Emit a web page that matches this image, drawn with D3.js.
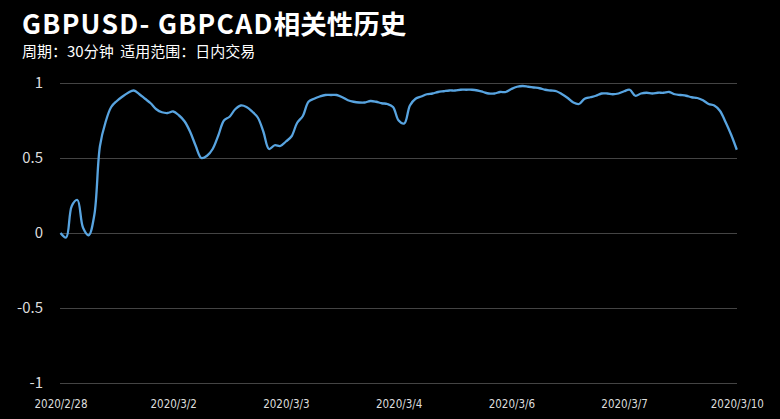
<!DOCTYPE html>
<html>
<head>
<meta charset="utf-8">
<script src="https://cdn.jsdelivr.net/npm/d3@7/dist/d3.min.js"></script>
<style>
  html, body { margin: 0; padding: 0; background: #000; }
  svg { display: block; }
</style>
</head>
<body>
<svg id="chart" width="780" height="419"></svg>
<script>
// ---- data ----
const titleLatin = "GBPUSD- GBPCAD";
const titleCJK = "相关性历史";
const subtitle = "周期：30分钟  适用范围：日内交易";
const correlation = [
  0.00, -0.03, 0.18, 0.22, 0.035, -0.015, 0.12, 0.58, 0.74, 0.84,
  0.88, 0.91, 0.935, 0.95, 0.925, 0.895, 0.865, 0.825, 0.805, 0.80,
  0.81, 0.785, 0.745, 0.675, 0.58, 0.50, 0.515, 0.56, 0.65, 0.75,
  0.775, 0.825, 0.85, 0.84, 0.81, 0.77, 0.675, 0.56, 0.585, 0.58,
  0.61, 0.645, 0.735, 0.78, 0.875, 0.895, 0.91, 0.92, 0.92, 0.92,
  0.905, 0.885, 0.875, 0.87, 0.87, 0.88, 0.875, 0.865, 0.86, 0.84,
  0.75, 0.73, 0.85, 0.895, 0.91, 0.925, 0.93, 0.94, 0.945, 0.95,
  0.95, 0.955, 0.955, 0.955, 0.95, 0.94, 0.93, 0.93, 0.94, 0.94,
  0.96, 0.975, 0.98, 0.975, 0.97, 0.965, 0.955, 0.95, 0.945, 0.925,
  0.90, 0.87, 0.86, 0.895, 0.905, 0.915, 0.93, 0.93, 0.925, 0.93,
  0.945, 0.955, 0.915, 0.93, 0.935, 0.93, 0.935, 0.935, 0.94, 0.925,
  0.92, 0.915, 0.905, 0.90, 0.885, 0.86, 0.85, 0.815, 0.74, 0.655,
  0.555
];
const tickLabels = ["2020/2/28", "2020/3/2", "2020/3/3", "2020/3/4", "2020/3/6", "2020/3/7", "2020/3/10"];
const tickIndex = [0, 20, 40, 60, 80, 100, 120];
const yTicks = [1, 0.5, 0, -0.5, -1];

// ---- chart ----
const svg = d3.select("#chart");
svg.append("rect").attr("width", 780).attr("height", 419).attr("fill", "#000");

const x = d3.scalePoint().domain(d3.range(correlation.length)).range([60.5, 736.8]);
const y = d3.scaleLinear().domain([-1, 1]).range([383, 83]);

const cjk = "'Noto Sans CJK SC', 'Noto Sans', sans-serif";
const t = svg.append("text").attr("x", 22).attr("y", 34)
  .attr("fill", "#fff").attr("font-weight", "bold").attr("font-family", cjk).attr("font-size", 26.5);
t.append("tspan").attr("letter-spacing", 1.3).text(titleLatin);
t.append("tspan").text(titleCJK);
svg.append("text").attr("x", 22).attr("y", 57)
  .attr("fill", "#fff").attr("font-family", cjk).style("white-space", "pre")
  .attr("font-size", 15).text(subtitle);

// y axis with gridlines
const yAxis = d3.axisLeft(y).tickValues(yTicks).tickSize(-(737 - 60)).tickPadding(17)
  .tickFormat(d => String(d));
const gy = svg.append("g").attr("transform", "translate(60,0)").call(yAxis);
gy.select(".domain").remove();
gy.selectAll(".tick line").attr("stroke", "#444").attr("stroke-width", 1);
gy.selectAll(".tick text").attr("fill", "#ddd")
  .attr("font-family", cjk).attr("font-size", 15);

// x axis
const xAxis = d3.axisBottom(x).tickValues(tickIndex).tickSize(0).tickPadding(0)
  .tickFormat((d) => tickLabels[tickIndex.indexOf(d)]);
const gx = svg.append("g").attr("transform", "translate(0,400)").call(xAxis);
gx.select(".domain").remove();
gx.selectAll(".tick text").attr("fill", "#ddd")
  .attr("font-family", "'Liberation Sans Narrow', 'DejaVu Sans Condensed', sans-serif")
  .attr("font-size", 11.5).attr("dy", "0.71em");

// line
const line = d3.line().x((d, i) => x(i)).y(d => y(d)).curve(d3.curveCatmullRom.alpha(0.5));
svg.append("path").datum(correlation)
  .attr("d", line).attr("fill", "none")
  .attr("stroke", "#58a4e0").attr("stroke-width", 2.3).attr("stroke-linejoin", "round");
</script>
</body>
</html>
